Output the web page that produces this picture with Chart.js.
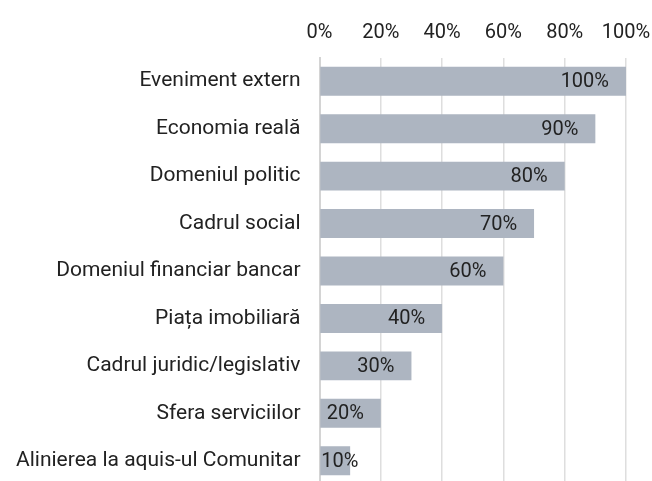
<!DOCTYPE html>
<html>
<head>
<meta charset="utf-8">
<script src="https://cdn.jsdelivr.net/npm/chart.js@4"></script>
<style>
  html, body { margin: 0; padding: 0; background: #fff; overflow: hidden; }
</style>
</head>
<body>
<canvas id="factorsChart" width="652" height="485"></canvas>
<script>
const categories = [
    'Eveniment extern',
    'Economia reală',
    'Domeniul politic',
    'Cadrul social',
    'Domeniul financiar bancar',
    'Piața imobiliară',
    'Cadrul juridic/legislativ',
    'Sfera serviciilor',
    'Alinierea la aquis-ul Comunitar'
];
const shares = [100, 90, 80, 70, 60, 40, 30, 20, 10];
const xTicks = [0, 20, 40, 60, 80, 100];

const FONT = 'Roboto, "Noto Sans", sans-serif';

// where the plot area should sit
const target = { left: 321, top: 57.5, right: 626, bottom: 484.5 };

// value labels, right aligned near the end of each bar
const barLabels = {
    id: 'barLabels',
    afterDatasetsDraw(chart) {
        const ctx = chart.ctx;
        const meta = chart.getDatasetMeta(0);
        ctx.save();
        ctx.font = '20px ' + FONT;
        ctx.fillStyle = '#222';
        ctx.textBaseline = 'middle';
        ctx.textAlign = 'left';
        meta.data.forEach((bar, i) => {
            const txt = shares[i] + '%';
            const w = ctx.measureText(txt).width;
            const x = Math.max(bar.x - 17 - w, bar.base + 1);
            ctx.fillText(txt, x, bar.y + 1);
        });
        ctx.restore();
    }
};

const ctx = document.getElementById('factorsChart').getContext('2d');

const chart = new Chart(ctx, {
    type: 'bar',
    data: {
        labels: categories,
        datasets: [{
            data: shares,
            backgroundColor: '#adb5c1',
            borderWidth: 0,
            barPercentage: 0.61,
            categoryPercentage: 1
        }]
    },
    options: {
        indexAxis: 'y',
        responsive: false,
        animation: false,
        layout: { padding: { top: 8, right: 26, bottom: 0, left: 10 } },
        plugins: {
            legend: { display: false },
            tooltip: { enabled: false }
        },
        scales: {
            x: {
                position: 'top',
                min: 0,
                max: 100,
                afterBuildTicks(scale) {
                    scale.ticks = xTicks.map(v => ({ value: v }));
                },
                afterFit(scale) {
                    scale.paddingLeft = 0;
                    scale.paddingRight = 0;
                },
                grid: { color: '#dedede', lineWidth: 1.5, drawTicks: false },
                border: { display: false },
                ticks: {
                    padding: 13,
                    color: '#222',
                    font: { family: FONT, size: 20 },
                    callback: v => v + '%'
                }
            },
            y: {
                afterFit(scale) {
                    scale.paddingTop = 0;
                    scale.paddingBottom = 0;
                },
                grid: { display: false, drawTicks: false },
                border: { display: true, color: '#d4d4d4', width: 2 },
                ticks: {
                    padding: 19,
                    color: '#222',
                    font: { family: FONT, size: 21 }
                }
            }
        }
    },
    plugins: [barLabels]
});

// second pass: nudge the padding so the plot area lands where the reference has it
const a = chart.chartArea;
const p = chart.options.layout.padding;
chart.options.layout.padding = {
    left: p.left + (target.left - a.left),
    top: p.top + (target.top - a.top),
    right: p.right + (a.right - target.right),
    bottom: p.bottom + (a.bottom - target.bottom)
};
chart.update();
</script>
</body>
</html>
